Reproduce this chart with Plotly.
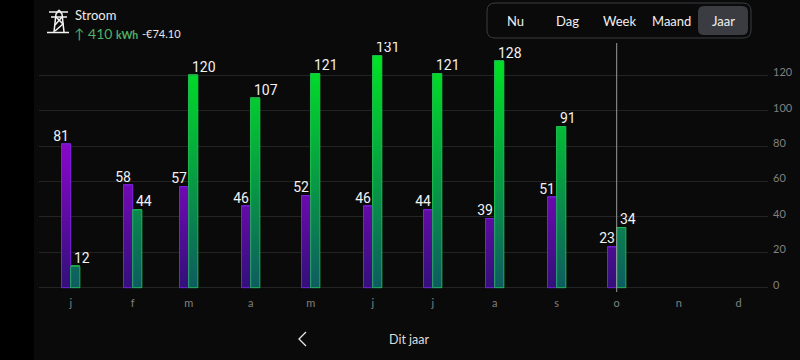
import plotly.graph_objects as go
from datetime import datetime, timedelta

months = ["2023-%02d-01" % m for m in range(1, 13)]
tick_labels = ["j", "f", "m", "a", "m", "j", "j", "a", "s", "o", "n", "d"]
used = [81, 58, 57, 46, 52, 46, 44, 39, 51, 23]
returned = [12, 44, 120, 107, 121, 131, 121, 128, 91, 34]
y_ticks = [0, 20, 40, 60, 80, 100, 120]
tabs = ["Nu", "Dag", "Week", "Maand", "Jaar"]

W, H = 800, 360
DAY_MS = 86400000
BAR_DAYS = 4.6
YMAX = 138.8
YMIN = -3
PX_PER_DAY = 2.0


def px(v):
    return v / W


def py(v):
    return 1 - v / H


def shift(date, days):
    return datetime.strptime(date, "%Y-%m-%d") + timedelta(days=days)


def bar_polys(values, d0, d1):
    xs, ys = [], []
    for m, v in zip(months, values):
        xs += [shift(m, d0), shift(m, d0), shift(m, d1), shift(m, d1), shift(m, d0), None]
        ys += [0, v, v, 0, 0, None]
    return xs, ys


def rrect(x0, y0, x1, y1, r):
    return (f"M{px(x0+r)},{py(y0)} L{px(x1-r)},{py(y0)} Q{px(x1)},{py(y0)} {px(x1)},{py(y0+r)} "
            f"L{px(x1)},{py(y1-r)} Q{px(x1)},{py(y1)} {px(x1-r)},{py(y1)} L{px(x0+r)},{py(y1)} "
            f"Q{px(x0)},{py(y1)} {px(x0)},{py(y1-r)} L{px(x0)},{py(y0+r)} Q{px(x0)},{py(y0)} {px(x0+r)},{py(y0)} Z")


def seg(*pts):
    return "M" + " L".join(f"{px(a)},{py(b)}" for a, b in pts)


fig = go.Figure()

series = [
    ("Verbruik", used, -BAR_DAYS, 0, [[0, "#32107a"], [1, "#c400ff"]], "rgba(125,35,225,0.85)", "top left", -0.9),
    ("Teruglevering", returned, 0, BAR_DAYS, [[0, "#0d5c60"], [1, "#00e822"]], "rgba(30,190,80,0.85)", "top right", 1.6),
]
for name, vals, d0, d1, scale, line, pos, lab in series:
    fig.add_trace(go.Bar(
        x=months[:len(vals)], y=vals, name=name, showlegend=False,
        width=BAR_DAYS * DAY_MS, offset=d0 * DAY_MS,
        marker=dict(color="rgba(0,0,0,0)", line=dict(color=line, width=1)),
    ))
    xs, ys = bar_polys(vals, d0, d1)
    fig.add_trace(go.Scatter(
        x=xs, y=ys, mode="lines", fill="toself", showlegend=False, hoverinfo="skip",
        line=dict(color=line, width=1),
        fillgradient=dict(type="vertical", start=0, stop=135, colorscale=scale),
    ))
    fig.add_trace(go.Scatter(
        x=[shift(m, lab) for m in months[:len(vals)]], y=vals, mode="text",
        text=[str(v) for v in vals], textposition=pos, showlegend=False, hoverinfo="skip",
        textfont=dict(family="Roboto", size=14, color="#f2f2f2"),
    ))

fig.add_shape(type="line", xref="x", yref="paper", x0=months[len(used) - 1], x1=months[len(used) - 1],
              y0=py(292), y1=py(43), line=dict(color="#9a9a9a", width=1), layer="above")

shapes = [
    dict(type="rect", xref="paper", yref="paper", x0=0, x1=px(34), y0=0, y1=1,
         fillcolor="#000000", line_width=0, layer="below"),
    dict(type="path", xref="paper", yref="paper", path=rrect(487, 3, 751, 38, 8),
         fillcolor="rgba(0,0,0,0)", line=dict(color="#3a3c40", width=1)),
    dict(type="path", xref="paper", yref="paper", path=rrect(698, 6, 748, 35, 6),
         fillcolor="#3a3c42", line_width=0),
    dict(type="path", xref="paper", yref="paper", path=seg((306, 332), (299, 339), (306, 346)),
         line=dict(color="#e8e8e8", width=1.3)),
]
pylon = [
    seg((49, 12), (68, 12)), seg((51, 17), (67, 17)), seg((47, 32.5), (69, 32.5)),
    seg((59, 10), (56, 14), (54, 32)), seg((59, 10), (62, 14), (64, 32)),
    seg((56, 17), (63, 24), (55, 31)), seg((62, 17), (55, 25)),
]
for p in pylon:
    shapes.append(dict(type="path", xref="paper", yref="paper", path=p,
                       line=dict(color="#f4f4f4", width=1.5)))
for s in shapes:
    fig.add_shape(**s)


def label(x, y, text, size, color, anchor="left", family="Lato"):
    fig.add_annotation(xref="paper", yref="paper", x=px(x), y=py(y), text=text, showarrow=False,
                       xanchor=anchor, yanchor="middle", borderpad=0,
                       font=dict(family=family, size=size, color=color))


label(74, 15, "Stroom", 13, "#ececec")
label(73, 33, "↑ 410 <span style='font-size:10.5px'><b>kWh</b></span>", 14, "#50b064")
label(141, 33, "-€74.10", 11, "#e8e8e8")
for t, cx in zip(tabs, [515, 567, 619, 671, 723]):
    label(cx, 21, t, 13, "#f0f0f0", anchor="center")
label(409, 339, "Dit jaar", 12.5, "#dcdcdc", anchor="center")

x_left = shift(months[0], -(70.7 - 39) / PX_PER_DAY)
x_right = shift(months[-1], (768 - 738.7) / PX_PER_DAY)

fig.update_layout(
    width=W, height=H, margin=dict(l=0, r=0, t=0, b=0),
    paper_bgcolor="#0a0a0a", plot_bgcolor="#0a0a0a",
    barmode="overlay", bargap=0, showlegend=False,
    xaxis=dict(
        type="date", domain=[px(39), px(768)], range=[x_left, x_right],
        tickmode="array", tickvals=months, ticktext=tick_labels, showgrid=False, zeroline=False,
        ticks="", showline=False, automargin=False, ticklabelstandoff=2,
        tickfont=dict(family="Lato", size=11, color="#808080"),
    ),
    yaxis=dict(
        side="right", domain=[py(293), py(42)], range=[YMIN, YMAX],
        tickmode="array", tickvals=y_ticks, showgrid=True, gridcolor="#232323", gridwidth=1,
        zeroline=False, ticks="", showline=False, automargin=False, ticklabelshift=-3, ticklabelstandoff=4,
        tickfont=dict(family="Lato", size=11, color="#808080"),
    ),
)

fig.write_html("out.html", config={"displayModeBar": False},
               post_script="document.body.style.margin='0';document.body.style.background='#0a0a0a';")
